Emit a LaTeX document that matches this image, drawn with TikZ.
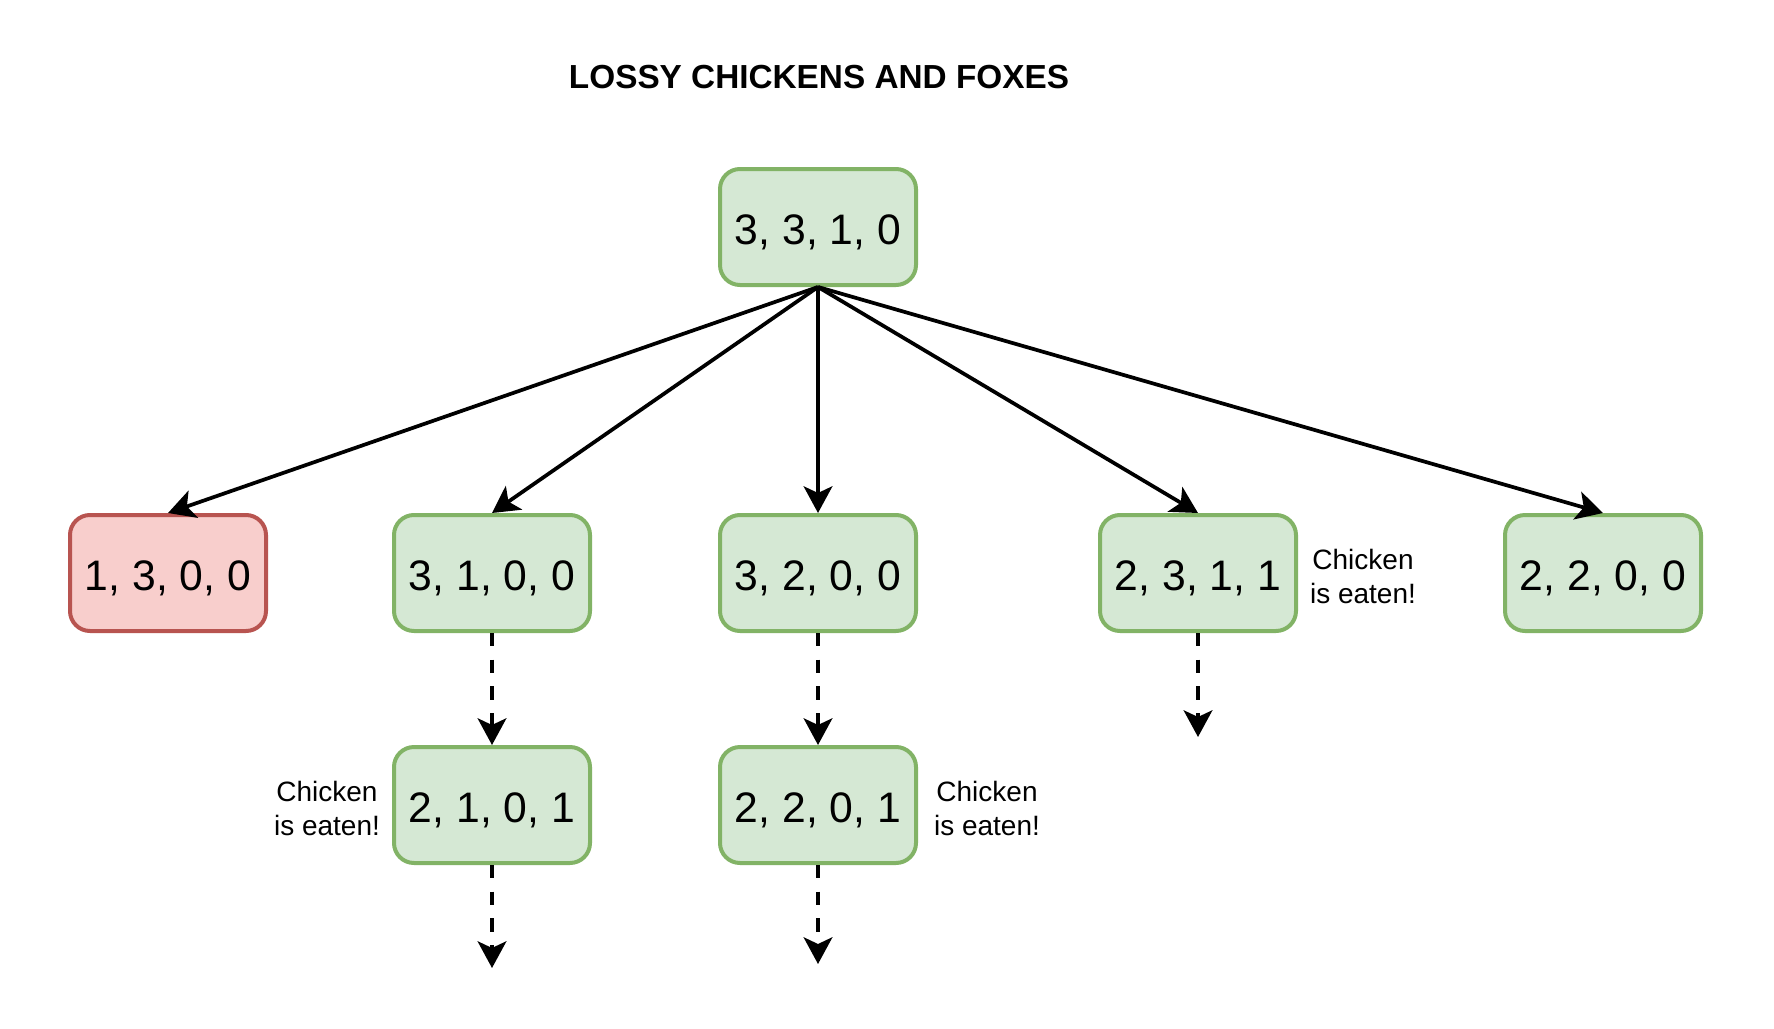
\documentclass[tikz,border=0pt]{standalone}
\usepackage{fontspec}
\setmainfont{Liberation Sans}
\usepackage{tikz}
\usetikzlibrary{arrows.meta}
\usepackage{xcolor}
\definecolor{okfill}{HTML}{D5E8D4}
\definecolor{okline}{HTML}{82B366}
\definecolor{badfill}{HTML}{F8CECC}
\definecolor{badline}{HTML}{B85450}
\tikzset{every picture/.style={line width=0.75pt}}
\tikzset{
  statebox/.style={draw=okline, fill=okfill, rounded corners=15pt, line width=3pt,
    minimum width=147pt, minimum height=87pt, inner sep=0pt,
    text height=26pt, text depth=0pt,
    font=\fontsize{32}{38}\selectfont},
  badbox/.style={statebox, draw=badline, fill=badfill},
  move/.style={-{Stealth[length=20pt,width=21.5pt,inset=5pt]}, line width=2.8pt},
  nextmove/.style={move, dash pattern=on 10pt off 10pt},
  eatnote/.style={align=center, inner sep=0pt, font=\fontsize{21}{25.5}\selectfont}
}

\begin{document}
\begin{tikzpicture}[x=0.75pt,y=0.75pt,yscale=-1,xscale=1]
\useasboundingbox (0,0) rectangle (1774,1028);

% Title
\node (title) at (819,77) {\fontsize{25}{30}\selectfont\bfseries LOSSY CHICKENS AND FOXES};

%Rounded Rect: start state
\node [statebox] (s3310) at (818,227) {3, 3, 1, 0};

%Rounded Rect: first moves
\node [badbox] (s1300) at (168,573) {1, 3, 0, 0};
\node [statebox] (s3100) at (492,573) {3, 1, 0, 0};
\node [statebox] (s3200) at (818,573) {3, 2, 0, 0};
\node [statebox] (s2311) at (1198,573) {2, 3, 1, 1};
\node [statebox] (s2200) at (1603,573) {2, 2, 0, 0};

%Rounded Rect: next moves
\node [statebox] (s2101) at (492,805) {2, 1, 0, 1};
\node [statebox] (s2201) at (818,805) {2, 2, 0, 1};

% Text Node
\node [eatnote] (eat2311) at (1363,576) {Chicken\\is eaten!};
\node [eatnote] (eat2101) at (327,808) {Chicken\\is eaten!};
\node [eatnote] (eat2201) at (987,808) {Chicken\\is eaten!};

% loose ends
\coordinate (end2311) at (1198,737);
\coordinate (end2101) at (492,968);
\coordinate (end2201) at (818,964);

%Arrows
\draw [move] (s3310.south) -- (s1300.north);
\draw [move] (s3310.south) -- (s3100.north);
\draw [move] (s3310.south) -- (s3200.north);
\draw [move] (s3310.south) -- (s2311.north);
\draw [move] (s3310.south) -- (s2200.north);

\draw [nextmove] (s3100.south) -- (s2101.north);
\draw [nextmove] (s3200.south) -- (s2201.north);
\draw [nextmove] (s2311.south) -- (end2311);
\draw [nextmove] (s2101.south) -- (end2101);
\draw [nextmove] (s2201.south) -- (end2201);

\end{tikzpicture}
\end{document}
